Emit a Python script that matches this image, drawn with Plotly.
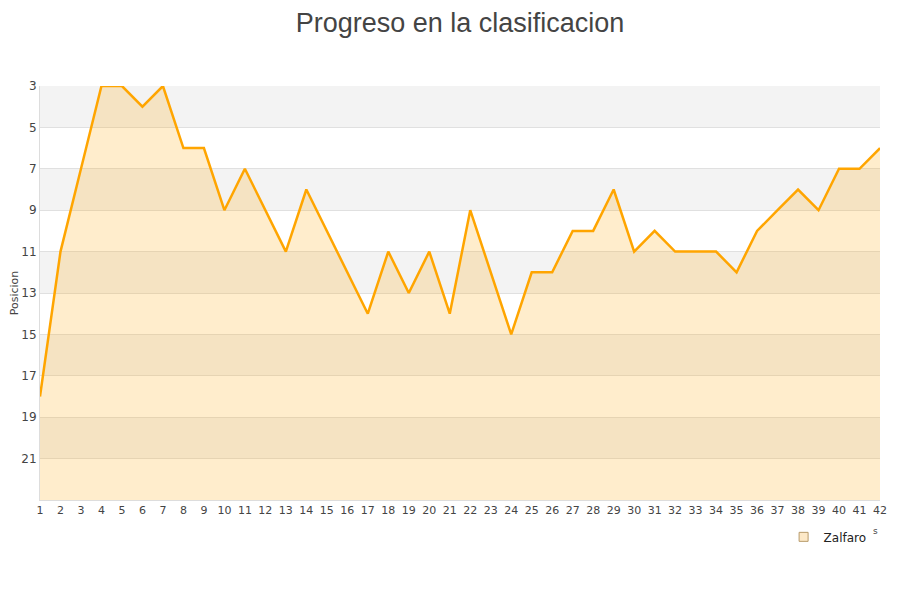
import plotly.graph_objects as go

jornadas = list(range(1, 43))
posicion = [18, 11, 7, 3, 3, 4, 3, 6, 6, 9, 7, 9, 11, 8, 10, 12, 14, 11, 13, 11, 14,
            9, 12, 15, 12, 12, 10, 10, 8, 11, 10, 11, 11, 11, 12, 10, 9, 8, 9, 7, 7, 6]
y_ticks = [3, 5, 7, 9, 11, 13, 15, 17, 19, 21]
fondo = 23

fig = go.Figure()

# bandas grises alternas
for b in y_ticks[::2]:
    fig.add_shape(type="rect", xref="paper", yref="y", x0=0, x1=1, y0=b, y1=b + 2,
                  fillcolor="#f3f3f3", line_width=0, layer="below")

fig.add_trace(go.Scatter(x=jornadas, y=[fondo] * len(jornadas), mode="lines",
                         line=dict(width=0), showlegend=False, hoverinfo="skip"))
fig.add_trace(go.Scatter(x=jornadas, y=posicion, mode="lines", fill="tonexty",
                         fillcolor="rgba(255,165,0,0.2)",
                         line=dict(color="#ffa500", width=2.5),
                         name="Zalfaro", showlegend=False))
# icono de leyenda
fig.add_trace(go.Scatter(x=[None], y=[None], mode="markers", name="Zalfaro",
                         marker=dict(symbol="square", size=9, color="#fde9c8",
                                     line=dict(color="#b89a6a", width=1))))

# la pagina tiene 8px de margen en el body, se compensa aqui
fig.update_layout(
    width=900, height=600,
    paper_bgcolor="white", plot_bgcolor="white",
    margin=dict(l=32, r=28, t=78, b=108),
    title=dict(text="Progreso en la clasificacion", x=0.5, xref="paper", y=0.976,
               xanchor="center", yanchor="middle",
               font=dict(family="Liberation Sans, Arial", size=27, color="#444")),
    font=dict(family="DejaVu Sans", color="#444"),
    xaxis=dict(range=[1, 42], tickvals=jornadas, ticktext=[str(j) for j in jornadas],
               tickfont=dict(size=11), showgrid=False, zeroline=False,
               showline=True, linecolor="#ddd", ticks="", automargin=False),
    yaxis=dict(range=[fondo, 3], tickvals=y_ticks, tickfont=dict(size=12),
               gridcolor="#e0e0e0", zeroline=False, showline=True, linecolor="#ddd",
               title=dict(text="Posicion", font=dict(size=11), standoff=8),
               ticks="", automargin=False),
    legend=dict(orientation="h", x=0.99, xanchor="right", y=-0.089, yanchor="middle",
                font=dict(size=12, color="#222"), itemwidth=30),
    showlegend=True,
)
fig.add_annotation(text="s", xref="paper", yref="paper", x=1.0, y=-0.091,
                   showarrow=False, font=dict(size=9, color="#444"))

fig.write_html("out.html")
